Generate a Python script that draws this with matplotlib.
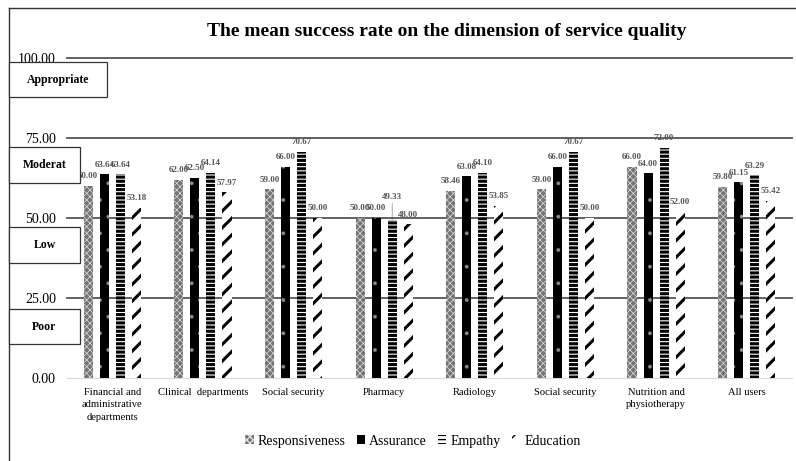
import matplotlib
matplotlib.use("Agg")
import matplotlib.pyplot as plt
import numpy as np
from matplotlib.patches import Rectangle
from matplotlib.lines import Line2D

plt.rcParams['font.family'] = ['Liberation Serif', 'DejaVu Serif']

# Data
units = ["Financial and\nadministrative\ndepartments", "Clinical  departments", "Social security",
         "Pharmacy", "Radiology", "Social security", "Nutrition and\nphysiotherapy", "All users"]
responsiveness = [60.00, 62.00, 59.00, 50.00, 58.46, 59.00, 66.00, 59.80]
assurance = [63.64, 62.50, 66.00, 50.00, 63.08, 66.00, 64.00, 61.15]
empathy = [63.64, 64.14, 70.67, 49.33, 64.10, 70.67, 72.00, 63.29]
education = [53.18, 57.97, 50.00, 48.00, 53.85, 50.00, 52.00, 55.42]
levels = ["Poor", "Low", "Moderat", "Appropriate"]
yticks = [0, 25, 50, 75, 100]

W, H = 796, 461
fig = plt.figure(figsize=(W / 100, H / 100), dpi=100)
ax = fig.add_axes([67 / W, 1 - 378 / H, (792 - 67) / W, (378 - 58) / H])

x = np.arange(len(units))
bw = 0.10
step = 0.177

series = [
    ("Responsiveness", responsiveness, dict(color="#747474", edgecolor="#e0e0e0", hatch="xxxxx"), 0.5),
    ("Assurance", assurance, dict(color="black", edgecolor="#8c8c8c", hatch="."), 0.3),
    ("Empathy", empathy, dict(color="white", edgecolor="black", hatch="----"), 2.2),
    ("Education", education, dict(color="white", edgecolor="black", hatch="//"), 2.2),
]

for i, (name, vals, style, hlw) in enumerate(series):
    pos = x + (i - 1.5) * step
    with plt.rc_context({"hatch.linewidth": hlw}):
        bars = ax.bar(pos, vals, bw, linewidth=0, label=name, zorder=2, **style)
    for b in bars:
        if hasattr(b, "set_hatch_linewidth"):
            b.set_hatch_linewidth(hlw)
    for j, (p, v) in enumerate(zip(pos, vals)):
        if name == "Empathy" and j == 3:
            # Pharmacy empathy label sits higher with a leader line
            ax.annotate(f"{v:.2f}", (p, v), xytext=(0, 14), textcoords="offset points",
                        ha="center", va="bottom", fontsize=6.5, fontweight="bold", color="#555555",
                        zorder=0.4, arrowprops=dict(arrowstyle="-", color="#999999", lw=0.6,
                                                    shrinkA=0, shrinkB=0))
        else:
            ax.annotate(f"{v:.2f}", (p, v), xytext=(0, 4), textcoords="offset points",
                        ha="center", va="bottom", fontsize=6.5, fontweight="bold", color="#555555",
                        zorder=0.4)

# Horizontal reference lines for the quality levels
for yv in yticks[1:]:
    ax.axhline(yv, color="#555555", lw=1.3, zorder=0.5, clip_on=False)

ax.set_xlim(-0.5, len(units) - 0.5)
ax.set_ylim(0, 100)
ax.set_yticks(yticks)
ax.set_yticklabels([f"{t:.2f}" for t in yticks], fontsize=10)
ax.set_xticks(x)
ax.set_xticklabels(units, fontsize=7.6, linespacing=1.5)
ax.tick_params(axis="both", length=0)
ax.tick_params(axis="y", pad=8)
ax.tick_params(axis="x", pad=7)
for s in ["top", "right", "left"]:
    ax.spines[s].set_visible(False)
ax.spines["bottom"].set_color("#d9d9d9")
ax.spines["bottom"].set_zorder(0.5)

fig.text(447 / W, 1 - 32 / H, "The mean success rate on the dimension of service quality",
         ha="center", va="center", fontsize=14, fontweight="bold")

ax.legend(loc="center", bbox_to_anchor=(413 / W, 1 - 441 / H), bbox_transform=fig.transFigure,
          ncol=4, frameon=False, fontsize=10, handlelength=0.6, handleheight=0.6,
          handletextpad=0.3, columnspacing=0.8)

# Outer frame
fig.add_artist(Line2D([9 / W, 1], [1 - 8 / H, 1 - 8 / H], color="#333333", lw=1.0))
fig.add_artist(Line2D([9 / W, 9 / W], [0, 1 - 8 / H], color="#333333", lw=1.0))

# Level boxes on the left
boxes = [(309, 344, 80), (227, 263, 80), (147, 183, 80), (62, 97, 107)]
for name, (top, bottom, right) in zip(levels, boxes):
    fig.add_artist(Rectangle((9 / W, 1 - bottom / H), (right - 9) / W, (bottom - top) / H,
                             transform=fig.transFigure, facecolor="white", edgecolor="#333333",
                             lw=0.9, zorder=5))
    fig.text((9 + right) / 2 / W, 1 - (top + bottom) / 2 / H, name, ha="center", va="center",
             fontsize=8.5, fontweight="bold", zorder=6)

fig.savefig("out.png", dpi=100)
